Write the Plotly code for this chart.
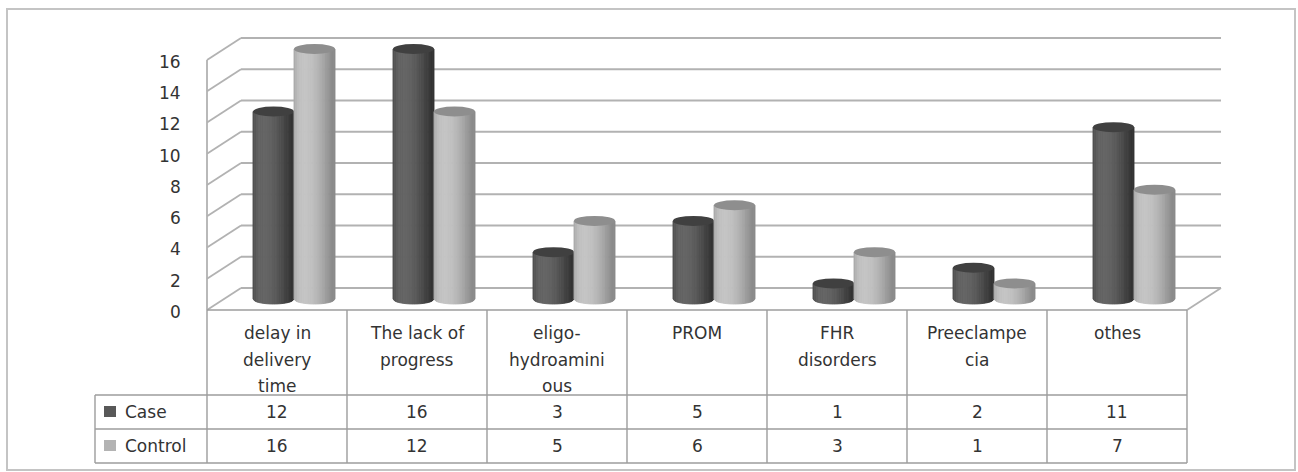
import numpy as np
import plotly.graph_objects as go

# ---- data -------------------------------------------------------------
category_lines = [
    ["delay in", "delivery", "time"],
    ["The lack of", "progress"],
    ["eligo-", "hydroamini", "ous"],
    ["PROM"],
    ["FHR", "disorders"],
    ["Preeclampe", "cia"],
    ["othes"],
]
case_values = [12, 16, 3, 5, 1, 2, 11]
control_values = [16, 12, 5, 6, 3, 1, 7]
series_names = ["Case", "Control"]
y_ticks = [0, 2, 4, 6, 8, 10, 12, 14, 16]

# ---- layout geometry (pixels) -----------------------------------------
W, H = 1298, 472
COL_PX = 140.0          # width of one category column
UNIT_PX = 15.625        # pixels per value unit
LEFT_PX = 207.0         # left edge of first category column
FLOOR_PX = 310.0        # front floor edge (value 0 at the front plane)
DEPTH_X_PX, DEPTH_Y_PX = 34.0, 22.0   # oblique depth of the 3-D box
BAR_HALF_PX = 20.5      # cylinder radius
CAP_RY_PX = 5.0         # vertical radius of cylinder ellipses

n_cat = len(category_lines)
x_range = [(0 - LEFT_PX) / COL_PX - 0.5, (W - LEFT_PX) / COL_PX - 0.5]
y_range = [(FLOOR_PX - H) / UNIT_PX, FLOOR_PX / UNIT_PX]


def px_x(px):
    return (px - LEFT_PX) / COL_PX - 0.5


def px_y(py):
    return (FLOOR_PX - py) / UNIT_PX


DX = DEPTH_X_PX / COL_PX
DY = DEPTH_Y_PX / UNIT_PX
RX = BAR_HALF_PX / COL_PX
RY = CAP_RY_PX / UNIT_PX

GRID = "#b2b2b2"
TABLE = "#9c9c9c"
TEXT = "#333333"
FONT = "DejaVu Sans"

shapes = []
annotations = []


def line(x0, y0, x1, y1, color=GRID, width=1.8):
    shapes.append(dict(type="line", xref="x", yref="y", x0=x0, y0=y0, x1=x1, y1=y1,
                       line=dict(color=color, width=width), layer="above"))


# outer frame
shapes.append(dict(type="rect", xref="x", yref="y", x0=px_x(7), x1=px_x(1295),
                   y0=px_y(9), y1=px_y(470), line=dict(color="#c4c4c4", width=2),
                   fillcolor="rgba(0,0,0,0)", layer="above"))

# back wall gridlines and side wall diagonals
x_left, x_right = -0.5, n_cat - 0.5
ymax = max(y_ticks)
for v in y_ticks:
    line(x_left + DX, v + DY, x_right + DX, v + DY)
    line(x_left, v, x_left + DX, v + DY)
line(x_left, 0, x_left, ymax)
# floor right edge
line(x_right, 0, x_right + DX, DY)

# value axis labels
for v in y_ticks:
    annotations.append(dict(x=px_x(183), y=v - 0.12, xref="x", yref="y", text=str(v),
                            showarrow=False, xanchor="right", yanchor="middle",
                            font=dict(family=FONT, size=17, color=TEXT)))


# ---- cylinders ----------------------------------------------------------
def shade(t, dark, peak):
    n = np.array([t, np.sqrt(max(0.0, 1 - t * t))])
    light = np.array([-0.45, 0.89])
    light = light / np.linalg.norm(light)
    s = max(0.0, float(n @ light)) ** 1.4
    c = int(round(dark + (peak - dark) * s))
    return f"rgb({c},{c},{c})"


def cylinder(xc, value, dark, peak, cap):
    base = DY / 2
    top = value + DY / 2
    n = 24
    edges = np.linspace(-1, 1, n + 1)
    for j in range(n):
        t0, t1 = edges[j], edges[j + 1]
        tm = 0.5 * (t0 + t1)
        xa, xb = xc + t0 * RX, xc + t1 * RX
        ya = base - RY * np.sqrt(max(0.0, 1 - t0 * t0))
        yb = base - RY * np.sqrt(max(0.0, 1 - t1 * t1))
        color = shade(tm, dark, peak)
        path = f"M {xa},{top} L {xb},{top} L {xb},{yb} L {xa},{ya} Z"
        shapes.append(dict(type="path", xref="x", yref="y", path=path,
                           fillcolor=color, line=dict(width=0.9, color=color),
                           layer="above"))
    shapes.append(dict(type="circle", xref="x", yref="y",
                       x0=xc - RX, x1=xc + RX, y0=top - RY, y1=top + RY,
                       fillcolor=cap, line=dict(width=0), layer="above"))


styles = {
    "Case": dict(dark=52, peak=100, cap="#404040", legend="#585858"),
    "Control": dict(dark=138, peak=196, cap="#8e8e8e", legend="#b3b3b3"),
}

for i in range(n_cat):
    xc = i + DX / 2
    cylinder(xc - RX, case_values[i], styles["Case"]["dark"], styles["Case"]["peak"],
             styles["Case"]["cap"])
    cylinder(xc + RX, control_values[i], styles["Control"]["dark"],
             styles["Control"]["peak"], styles["Control"]["cap"])

# ---- data table ---------------------------------------------------------
row_tops = [310, 395, 429, 463]
label_left = px_x(95)
line(x_left, px_y(row_tops[0]), x_right, px_y(row_tops[0]), TABLE, 1.4)
for py in row_tops[1:]:
    line(label_left, px_y(py), x_right, px_y(py), TABLE, 1.4)
line(label_left, px_y(row_tops[1]), label_left, px_y(row_tops[3]), TABLE, 1.4)
for k in range(n_cat + 1):
    line(x_left + k, px_y(row_tops[0]), x_left + k, px_y(row_tops[3]), TABLE, 1.4)

# category headers, one annotation per text line
for i, lines_ in enumerate(category_lines):
    for k, txt in enumerate(lines_):
        annotations.append(dict(x=i, y=px_y(333 + 26.5 * k), xref="x", yref="y",
                                text=txt, showarrow=False, xanchor="center",
                                yanchor="middle",
                                font=dict(family=FONT, size=17, color=TEXT)))

row_centers = [412, 446]
for name, values, yc in zip(series_names, [case_values, control_values], row_centers):
    shapes.append(dict(type="rect", xref="x", yref="y",
                       x0=px_x(104), x1=px_x(116), y0=px_y(yc + 5), y1=px_y(yc - 6),
                       fillcolor=styles[name]["legend"], line=dict(width=0),
                       layer="above"))
    annotations.append(dict(x=px_x(123), y=px_y(yc), xref="x", yref="y", text=name,
                            showarrow=False, xanchor="left", yanchor="middle",
                            font=dict(family=FONT, size=17, color=TEXT)))
    for i, v in enumerate(values):
        annotations.append(dict(x=i, y=px_y(yc), xref="x", yref="y", text=str(v),
                                showarrow=False, xanchor="center", yanchor="middle",
                                font=dict(family=FONT, size=17, color=TEXT)))

fig = go.Figure()
fig.add_trace(go.Scatter(x=[x_range[0]], y=[y_range[0]], mode="markers",
                         marker=dict(opacity=0), showlegend=False, hoverinfo="skip"))
fig.update_layout(
    width=W, height=H,
    margin=dict(l=0, r=0, t=0, b=0),
    paper_bgcolor="white", plot_bgcolor="white",
    xaxis=dict(range=x_range, visible=False, fixedrange=True),
    yaxis=dict(range=y_range, visible=False, fixedrange=True),
    shapes=shapes, annotations=annotations, showlegend=False,
)
fig.write_html("out.html")
